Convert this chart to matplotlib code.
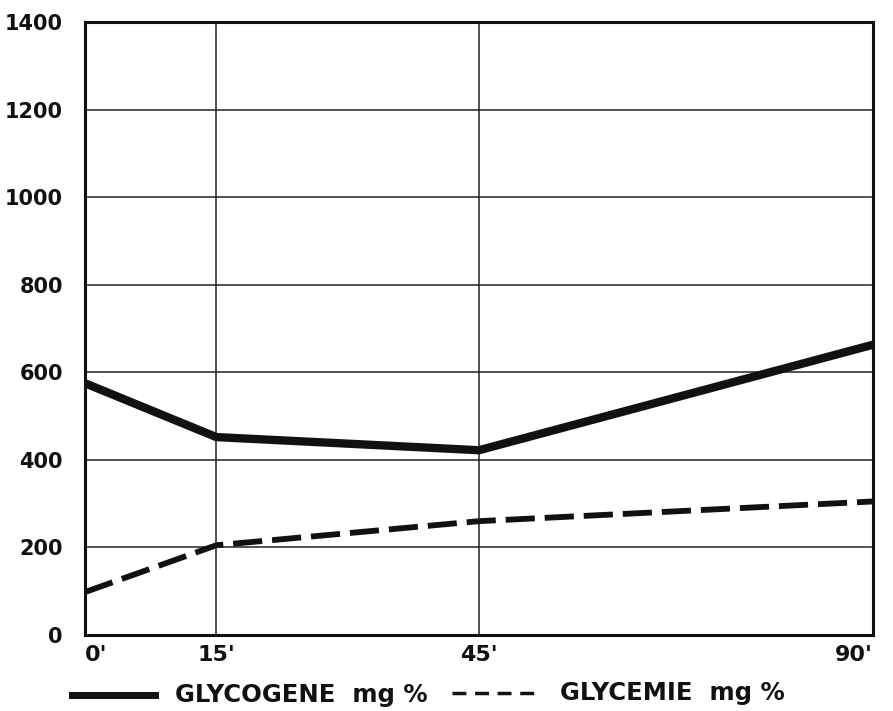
import matplotlib
matplotlib.use("Agg")
import matplotlib.pyplot as plt
from matplotlib.lines import Line2D

# time in minutes and values in mg %
minutes = [0, 15, 45, 90]
tick_labels = ["0'", "15'", "45'", "90'"]
glycogene = [575, 452, 422, 663]
glycemie = [98, 205, 260, 305]
y_ticks = [0, 200, 400, 600, 800, 1000, 1200, 1400]

fig = plt.figure(figsize=(8.93, 7.11), dpi=100)
ax = fig.add_axes([85 / 893, 1 - 635 / 711, 788 / 893, 613 / 711])

ax.plot(minutes, glycogene, color='#111111', linewidth=6, solid_capstyle='butt', zorder=3)
ax.plot(minutes, glycemie, color='#111111', linewidth=4.2, dashes=(5, 1.7), zorder=3)

ax.set_xlim(0, 90)
ax.set_ylim(0, 1400)
ax.set_xticks(minutes)
ax.set_xticklabels(tick_labels)
ax.set_yticks(y_ticks)
ax.grid(True, color='#222222', linewidth=1.1)
ax.tick_params(length=0)
ax.tick_params(axis='y', pad=16, labelsize=15)
ax.tick_params(axis='x', pad=7, labelsize=16)
for lab in ax.get_xticklabels() + ax.get_yticklabels():
    lab.set_fontweight('bold')
    lab.set_color('#111111')
xl = ax.get_xticklabels()
xl[0].set_horizontalalignment('left')
xl[-1].set_horizontalalignment('right')
for s in ax.spines.values():
    s.set_linewidth(2.2)
    s.set_color('#111111')

# legend drawn under the axes, hand-lettered style
fig.add_artist(Line2D([72 / 893, 155 / 893], [1 - 695 / 711] * 2, color='#111111',
                      linewidth=5, transform=fig.transFigure))
fig.text(175 / 893, 1 - 695 / 711, "GLYCOGENE  mg %", fontsize=17.5, fontweight='bold',
         va='center', ha='left', color='#111111')
fig.add_artist(Line2D([452 / 893, 537 / 893], [1 - 693 / 711] * 2, color='#111111',
                      linewidth=2.5, dashes=(4, 2.5), transform=fig.transFigure))
fig.text(560 / 893, 1 - 693 / 711, "GLYCEMIE  mg %", fontsize=17.5, fontweight='bold',
         va='center', ha='left', color='#111111')

fig.savefig("out.png", dpi=100)
